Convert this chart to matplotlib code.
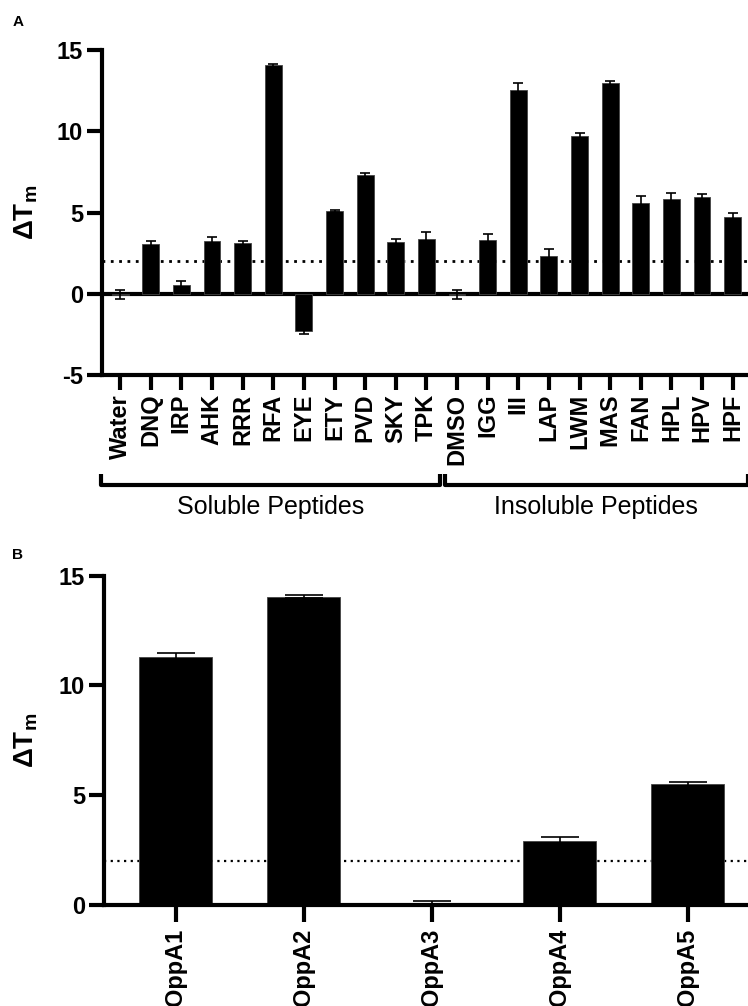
import matplotlib
matplotlib.use('Agg')
import matplotlib.pyplot as plt
import matplotlib.transforms as mtransforms

plt.rcParams['font.family'] = ['Liberation Sans', 'DejaVu Sans']
plt.rcParams['font.weight'] = 'bold'
plt.rcParams['axes.unicode_minus'] = False
plt.rcParams['mathtext.fontset'] = 'custom'
plt.rcParams['mathtext.rm'] = 'Liberation Sans'
plt.rcParams['mathtext.bf'] = 'Liberation Sans:bold'

# Panel A: peptide screen
peptides = ['Water', 'DNQ', 'IRP', 'AHK', 'RRR', 'RFA', 'EYE', 'ETY', 'PVD', 'SKY', 'TPK',
            'DMSO', 'IGG', 'III', 'LAP', 'LWM', 'MAS', 'FAN', 'HPL', 'HPV', 'HPF']
dtm_a = [-0.05, 3.05, 0.55, 3.25, 3.15, 14.05, -2.3, 5.1, 7.3, 3.2, 3.4,
         -0.05, 3.3, 12.55, 2.35, 9.7, 12.95, 5.6, 5.85, 5.95, 4.7]
err_a = [0.3, 0.2, 0.25, 0.25, 0.12, 0.1, 0.15, 0.08, 0.12, 0.15, 0.4,
         0.3, 0.4, 0.4, 0.4, 0.2, 0.12, 0.4, 0.35, 0.18, 0.3]
group_names = ['Soluble Peptides', 'Insoluble Peptides']
group_sizes = [11, 10]

# Panel B: OppA paralogues
proteins = ['OppA1', 'OppA2', 'OppA3', 'OppA4', 'OppA5']
dtm_b = [11.3, 14.05, 0.0, 2.9, 5.5]
err_b = [0.2, 0.08, 0.2, 0.2, 0.1]

threshold = 2.0
ylabel = r'$\Delta\mathbf{T}_{\mathbf{m}}$'


def style_axes(ax):
    for s in ['top', 'right']:
        ax.spines[s].set_visible(False)
    for s in ['left', 'bottom']:
        ax.spines[s].set_linewidth(3)
    ax.tick_params(axis='both', width=3, length=10.5, labelsize=17, pad=3)


fig = plt.figure(figsize=(7.48, 10.06), dpi=100)

# ---- Panel A ----
axA = fig.add_axes([0.136, 0.6272, 0.864, 0.3231])
xa = list(range(len(peptides)))
axA.axhline(0, color='black', lw=3, zorder=1)
axA.bar(xa, dtm_a, width=0.55, color='black', edgecolor='#444444', linewidth=0.6, zorder=2)
axA.errorbar(xa, dtm_a, yerr=err_a, fmt='none', ecolor='black', elinewidth=1.2,
             capsize=3.4, capthick=1.2, zorder=3)
axA.axhline(threshold, color='black', lw=2, linestyle=(0, (1, 2)), zorder=1.5)
axA.set_xlim(-0.6, 20.5)
axA.set_ylim(-5, 15)
axA.set_yticks([-5, 0, 5, 10, 15])
axA.set_xticks(xa)
axA.set_xticklabels(peptides, rotation=90)
style_axes(axA)
axA.set_ylabel(ylabel, fontsize=20)
axA.yaxis.set_label_coords(-0.095, 0.5)

# group brackets under the tick labels
trans = mtransforms.blended_transform_factory(axA.transData, axA.transAxes)
start = 0
for name, n in zip(group_names, group_sizes):
    x0 = start - 0.62 if start == 0 else start - 0.4
    x1 = start + n - 0.55 if start == 0 else start + n - 0.5
    axA.plot([x0, x0, x1, x1], [-0.305, -0.338, -0.338, -0.305], color='black', lw=3,
             transform=trans, clip_on=False, solid_capstyle='butt')
    axA.text((x0 + x1) / 2, -0.405, name, transform=trans, ha='center', va='center',
             fontsize=18, fontweight='normal')
    start += n

fig.text(0.017, 0.978, 'A', fontsize=11, fontweight='bold', va='center')

# ---- Panel B ----
axB = fig.add_axes([0.139, 0.1004, 0.861, 0.3273])
xb = list(range(len(proteins)))
axB.bar(xb, dtm_b, width=0.57, color='black', edgecolor='#444444', linewidth=0.6, zorder=2)
axB.errorbar(xb, dtm_b, yerr=err_b, fmt='none', ecolor='black', elinewidth=1.2,
             capsize=13.5, capthick=1.2, zorder=3)
axB.axhline(threshold, color='black', lw=1.6, linestyle=(0, (1, 2)), zorder=1.5)
axB.set_xlim(-0.56, 4.47)
axB.set_ylim(0, 15)
axB.set_yticks([0, 5, 10, 15])
axB.set_xticks(xb)
axB.set_xticklabels(proteins, rotation=90)
style_axes(axB)
axB.tick_params(axis='x', length=12, pad=5)
axB.set_ylabel(ylabel, fontsize=20)
axB.yaxis.set_label_coords(-0.1, 0.5)

fig.text(0.016, 0.4483, 'B', fontsize=11, fontweight='bold', va='center')

fig.savefig('out.png', dpi=100)
